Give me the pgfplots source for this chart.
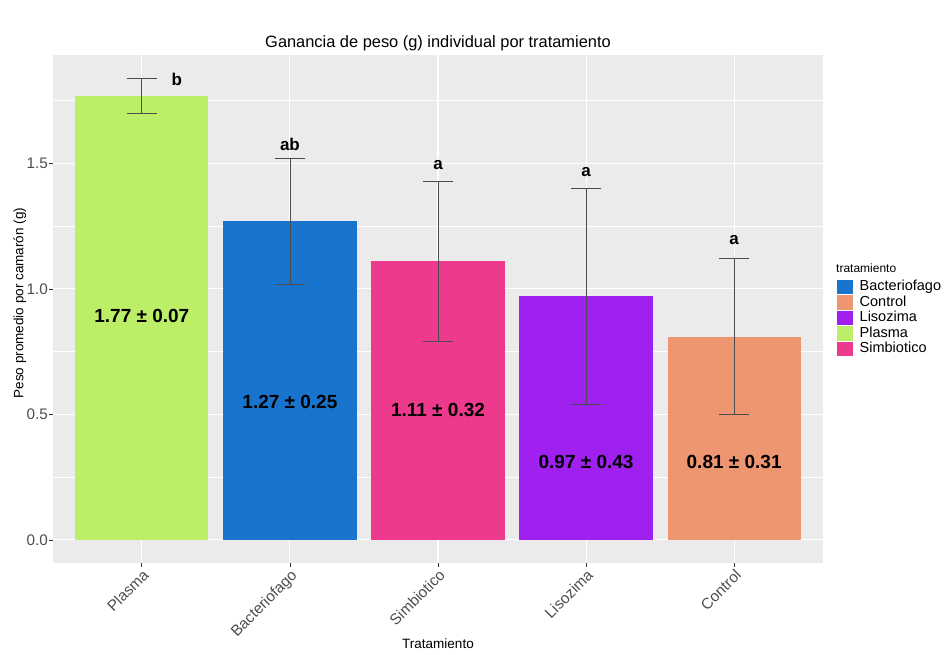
\documentclass[border=0pt]{standalone}
\usepackage{pgfplots}
\pgfplotsset{compat=1.18}
\usepackage{fontspec}
\setmainfont{Liberation Sans}
\definecolor{panelgray}{HTML}{EBEBEB}
\definecolor{cplasma}{HTML}{BCEE68}
\definecolor{cbac}{HTML}{1874CD}
\definecolor{csimb}{HTML}{EE3A8C}
\definecolor{clis}{HTML}{A020F0}
\definecolor{cctrl}{HTML}{EE9572}
\definecolor{txtgray}{HTML}{4D4D4D}
\definecolor{tickgray}{HTML}{333333}
\begin{document}
\begin{tikzpicture}
\path[use as bounding box] (0pt,0pt) rectangle (946pt,654pt);
\begin{axis}[
  at={(53pt,91pt)}, anchor=south west,
  scale only axis, width=770pt, height=508pt,
  xmin=0.4, xmax=5.6, ymin=-0.092, ymax=1.932,
  axis background/.style={fill=panelgray},
  axis line style={draw=none},
  xtick={1,2,3,4,5},
  xticklabels={Plasma,Bacteriofago,Simbiotico,Lisozima,Control},
  ytick={0,0.5,1,1.5},
  minor ytick={0.25,0.75,1.25,1.75},
  xmajorgrids, ymajorgrids, yminorgrids,
  major grid style={white, line width=1.1pt},
  minor grid style={white, line width=0.55pt},
  xtick pos=bottom, ytick pos=left,
  tick align=outside, major tick length=4pt, minor tick length=0pt,
  tick style={tickgray, line width=0.8pt},
  /pgf/number format/assume math mode=true,
  yticklabel style={/pgf/number format/.cd, fixed, fixed zerofill, precision=1, /tikz/.cd, font=\fontsize{15.3}{18}\selectfont, text=txtgray, inner sep=1pt},
  xticklabel style={font=\fontsize{15.3}{18}\selectfont, text=txtgray, rotate=45, anchor=north east, inner sep=1pt},
  legend style={at={(1.0182,0.559)}, anchor=north west, draw=none, fill=none,
    font=\fontsize{14.5}{15}\selectfont, inner sep=0pt, row sep=0pt,
    nodes={inner sep=0.5pt, text height=11pt, text depth=3.5pt},
    /tikz/every odd column/.append style={column sep=6pt}},
  legend cell align=left,
  legend image code/.code={\fill[#1] (0pt,-7.4pt) rectangle (16pt,7.4pt);},
  clip=false,
]
\addlegendimage{fill=cbac, draw=none}\addlegendentry{Bacteriofago}
\addlegendimage{fill=cctrl, draw=none}\addlegendentry{Control}
\addlegendimage{fill=clis, draw=none}\addlegendentry{Lisozima}
\addlegendimage{fill=cplasma, draw=none}\addlegendentry{Plasma}
\addlegendimage{fill=csimb, draw=none}\addlegendentry{Simbiotico}

\addplot[ybar, bar width=0.9, bar shift=0pt, fill=cplasma, draw=none, forget plot] coordinates {(1,1.77)};
\addplot[ybar, bar width=0.9, bar shift=0pt, fill=cbac, draw=none, forget plot] coordinates {(2,1.27)};
\addplot[ybar, bar width=0.9, bar shift=0pt, fill=csimb, draw=none, forget plot] coordinates {(3,1.11)};
\addplot[ybar, bar width=0.9, bar shift=0pt, fill=clis, draw=none, forget plot] coordinates {(4,0.97)};
\addplot[ybar, bar width=0.9, bar shift=0pt, fill=cctrl, draw=none, forget plot] coordinates {(5,0.81)};

\addplot[draw=none, mark=none, forget plot,
  error bars/.cd, y dir=both, y explicit,
  error bar style={black!70, line width=0.75pt},
  error mark options={rotate=90, mark size=15pt, black!70, line width=0.75pt}]
  coordinates {
    (1,1.77) +- (0,0.07)
    (2,1.27) +- (0,0.25)
    (3,1.11) +- (0,0.32)
    (4,0.97) +- (0,0.43)
    (5,0.81) +- (0,0.31)
  };

\begin{scope}[every node/.style={font=\bfseries\fontsize{19}{22}\selectfont}]
\node at (axis cs:1,0.892) {1.77 ± 0.07};
\node at (axis cs:2,0.550) {1.27 ± 0.25};
\node at (axis cs:3,0.518) {1.11 ± 0.32};
\node at (axis cs:4,0.311) {0.97 ± 0.43};
\node at (axis cs:5,0.311) {0.81 ± 0.31};
\end{scope}
\begin{scope}[every node/.style={font=\bfseries\fontsize{17}{20}\selectfont}]
\node at (axis cs:1.236,1.833) {b};
\node at (axis cs:2,1.574) {ab};
\node at (axis cs:3,1.494) {a};
\node at (axis cs:4,1.466) {a};
\node at (axis cs:5,1.195) {a};
\end{scope}
\end{axis}
\node[font=\fontsize{16.4}{19}\selectfont] at (438pt,610.5pt) {Ganancia de peso (g) individual por tratamiento};
\node[font=\fontsize{13.5}{16}\selectfont] at (438pt,10pt) {Tratamiento};
\node[font=\fontsize{13.5}{16}\selectfont, rotate=90] at (19.7pt,351pt) {Peso promedio por camarón (g)};
\node[font=\fontsize{12}{14}\selectfont, anchor=west, inner sep=0pt] at (836pt,386pt) {tratamiento};
\end{tikzpicture}
\end{document}
